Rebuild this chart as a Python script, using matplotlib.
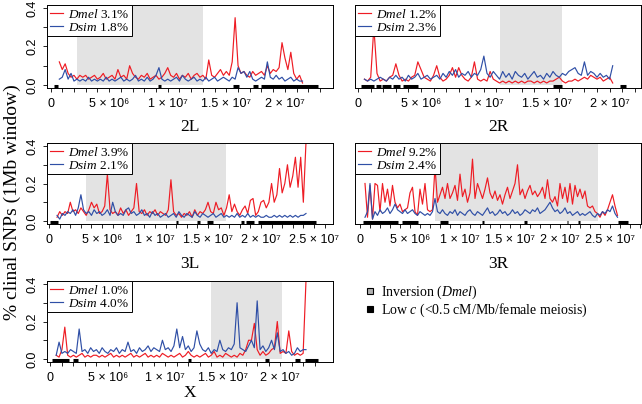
import numpy as np
import matplotlib.pyplot as plt
from matplotlib.lines import Line2D

plt.rcParams['mathtext.fontset'] = 'custom'
plt.rcParams['mathtext.rm'] = 'Liberation Serif'
plt.rcParams['mathtext.it'] = 'Liberation Serif:italic'

# sliding windows, first window midpoint per arm and step (bp)
win_step = 0.25e6

start_2L = 0.75e6
dmel_2L = [0.12, 0.08, 0.11, 0.06, 0.04, 0.05, 0.03, 0.05, 0.04, 0.05, 0.03, 0.04, 0.05, 0.03, 0.04, 0.06,
           0.03, 0.04, 0.05, 0.03, 0.08, 0.04, 0.05, 0.03, 0.10, 0.06, 0.04, 0.03, 0.05, 0.04, 0.06, 0.03,
           0.04, 0.05, 0.03, 0.04, 0.06, 0.09, 0.05, 0.04, 0.06, 0.03, 0.05, 0.04, 0.06, 0.03, 0.05, 0.06,
           0.04, 0.05, 0.03, 0.13, 0.05, 0.04, 0.06, 0.08, 0.05, 0.07, 0.05, 0.12, 0.35, 0.10, 0.06, 0.07,
           0.05, 0.04, 0.07, 0.05, 0.06, 0.07, 0.05, 0.10, 0.06, 0.08, 0.07, 0.09, 0.22, 0.14, 0.08, 0.17,
           0.06, 0.03, 0.05, 0.01]
dsim_2L = [0.03, 0.04, 0.08, 0.03, 0.06, 0.02, 0.03, 0.02, 0.03, 0.02, 0.04, 0.02, 0.03, 0.02, 0.03, 0.02,
           0.04, 0.02, 0.03, 0.02, 0.03, 0.04, 0.02, 0.03, 0.02, 0.03, 0.05, 0.02, 0.03, 0.02, 0.04, 0.02,
           0.03, 0.05, 0.09, 0.03, 0.02, 0.03, 0.02, 0.03, 0.04, 0.02, 0.05, 0.03, 0.02, 0.03, 0.04, 0.02,
           0.03, 0.02, 0.04, 0.02, 0.03, 0.04, 0.02, 0.03, 0.04, 0.03, 0.02, 0.04, 0.03, 0.09, 0.06, 0.07,
           0.04, 0.07, 0.03, 0.02, 0.03, 0.04, 0.03, 0.12, 0.04, 0.03, 0.05, 0.03, 0.04, 0.02, 0.03, 0.04,
           0.02, 0.03, 0.02, 0.02]

start_2R = 0.5e6
dmel_2R = [0.03, 0.02, 0.04, 0.30, 0.06, 0.02, 0.03, 0.02, 0.04, 0.05, 0.11, 0.05, 0.02, 0.03, 0.02, 0.04,
           0.05, 0.12, 0.08, 0.04, 0.03, 0.02, 0.05, 0.10, 0.04, 0.02, 0.03, 0.05, 0.09, 0.04, 0.09, 0.05,
           0.03, 0.02, 0.04, 0.12, 0.03, 0.02, 0.03, 0.02, 0.07, 0.03, 0.02, 0.01, 0.02, 0.01, 0.02, 0.01,
           0.02, 0.01, 0.02, 0.01, 0.02, 0.02, 0.01, 0.02, 0.01, 0.02, 0.01, 0.02, 0.02, 0.03, 0.04, 0.02,
           0.01, 0.02, 0.02, 0.03, 0.02, 0.03, 0.04, 0.03, 0.05, 0.04, 0.03, 0.04, 0.02, 0.03, 0.04, 0.01]
dsim_2R = [0.03, 0.02, 0.03, 0.02, 0.03, 0.04, 0.03, 0.02, 0.04, 0.03, 0.05, 0.03, 0.04, 0.02, 0.05, 0.03,
           0.04, 0.06, 0.03, 0.04, 0.05, 0.03, 0.04, 0.05, 0.03, 0.06, 0.04, 0.07, 0.05, 0.08, 0.04, 0.06,
           0.05, 0.07, 0.04, 0.06, 0.05, 0.08, 0.15, 0.06, 0.04, 0.07, 0.05, 0.03, 0.07, 0.04, 0.06, 0.03,
           0.07, 0.05, 0.04, 0.06, 0.03, 0.05, 0.07, 0.04, 0.05, 0.03, 0.06, 0.04, 0.07, 0.05, 0.04, 0.06,
           0.05, 0.07, 0.08, 0.09, 0.06, 0.05, 0.12, 0.05, 0.07, 0.06, 0.04, 0.06, 0.04, 0.05, 0.03, 0.10]

start_3L = 0.75e6
dmel_3L = [0.02, 0.05, 0.03, 0.05, 0.04, 0.10, 0.05, 0.06, 0.04, 0.07, 0.05, 0.03, 0.06, 0.10, 0.07, 0.09,
           0.04, 0.05, 0.08, 0.25, 0.06, 0.04, 0.05, 0.03, 0.07, 0.04, 0.06, 0.03, 0.05, 0.07, 0.20, 0.05,
           0.04, 0.06, 0.03, 0.05, 0.04, 0.06, 0.03, 0.05, 0.04, 0.03, 0.06, 0.22, 0.05, 0.03, 0.04, 0.02,
           0.04, 0.03, 0.05, 0.02, 0.06, 0.03, 0.05, 0.04, 0.06, 0.10, 0.05, 0.04, 0.10, 0.06, 0.07, 0.03,
           0.07, 0.14, 0.05, 0.09, 0.05, 0.03, 0.06, 0.08, 0.04, 0.11, 0.12, 0.03, 0.05, 0.10, 0.11, 0.07,
           0.10, 0.20, 0.10, 0.14, 0.28, 0.15, 0.20, 0.30, 0.18, 0.24, 0.34, 0.18, 0.34, 0.10, 0.42]
dsim_3L = [0.03, 0.01, 0.04, 0.03, 0.05, 0.04, 0.06, 0.03, 0.07, 0.14, 0.06, 0.04, 0.05, 0.03, 0.06, 0.04,
           0.05, 0.03, 0.04, 0.06, 0.03, 0.10, 0.05, 0.03, 0.04, 0.03, 0.06, 0.07, 0.04, 0.05, 0.03, 0.04,
           0.06, 0.03, 0.04, 0.02, 0.05, 0.03, 0.04, 0.02, 0.03, 0.04, 0.02, 0.03, 0.04, 0.02, 0.05, 0.03,
           0.02, 0.04, 0.03, 0.02, 0.05, 0.03, 0.02, 0.04, 0.03, 0.02, 0.03, 0.04, 0.02, 0.03, 0.04, 0.02,
           0.03, 0.02, 0.03, 0.02, 0.04, 0.02, 0.03, 0.02, 0.04, 0.02, 0.03, 0.02, 0.03, 0.02, 0.02, 0.03,
           0.02, 0.02, 0.03, 0.02, 0.03, 0.02, 0.03, 0.02, 0.03, 0.02, 0.03, 0.02, 0.03, 0.03, 0.04]

start_3R = 0.5e6
dmel_3R = [0.20, 0.02, 0.19, 0.01, 0.20, 0.19, 0.05, 0.20, 0.10, 0.17, 0.08, 0.19, 0.10, 0.07, 0.09, 0.05,
           0.06, 0.07, 0.15, 0.18, 0.05, 0.03, 0.17, 0.09, 0.20, 0.06, 0.05, 0.06, 0.29, 0.10, 0.14, 0.18,
           0.12, 0.20, 0.12, 0.15, 0.19, 0.11, 0.25, 0.13, 0.17, 0.10, 0.15, 0.33, 0.12, 0.20, 0.16, 0.12,
           0.17, 0.23, 0.15, 0.12, 0.16, 0.11, 0.14, 0.09, 0.14, 0.18, 0.12, 0.16, 0.20, 0.30, 0.14, 0.17,
           0.12, 0.16, 0.19, 0.14, 0.16, 0.13, 0.15, 0.18, 0.12, 0.22, 0.12, 0.10, 0.13, 0.08, 0.20, 0.12,
           0.18, 0.10, 0.20, 0.09, 0.19, 0.13, 0.17, 0.12, 0.16, 0.08, 0.07, 0.08, 0.05, 0.04, 0.02, 0.05,
           0.03, 0.06, 0.10, 0.14, 0.08, 0.03]
dsim_3R = [0.02, 0.05, 0.20, 0.01, 0.05, 0.03, 0.06, 0.04, 0.05, 0.07, 0.04, 0.06, 0.09, 0.06, 0.05, 0.04,
           0.06, 0.04, 0.05, 0.06, 0.04, 0.03, 0.05, 0.04, 0.03, 0.04, 0.03, 0.05, 0.12, 0.05, 0.04, 0.06,
           0.04, 0.03, 0.05, 0.04, 0.06, 0.03, 0.05, 0.04, 0.03, 0.05, 0.06, 0.04, 0.03, 0.05, 0.04, 0.03,
           0.05, 0.07, 0.04, 0.05, 0.03, 0.04, 0.06, 0.04, 0.05, 0.03, 0.04, 0.06, 0.04, 0.05, 0.03, 0.04,
           0.06, 0.05, 0.04, 0.06, 0.05, 0.07, 0.04, 0.05, 0.06, 0.08, 0.10, 0.07, 0.05, 0.06, 0.04, 0.05,
           0.07, 0.04, 0.05, 0.03, 0.04, 0.05, 0.03, 0.04, 0.03, 0.04, 0.05, 0.03, 0.02, 0.04, 0.03, 0.05,
           0.04, 0.06, 0.05, 0.08, 0.04, 0.02]

start_X = 0.5e6
dmel_X = [0.02, 0.01, 0.05, 0.17, 0.02, 0.01, 0.02, 0.01, 0.02, 0.03, 0.01, 0.02, 0.01, 0.02, 0.02, 0.01,
          0.02, 0.01, 0.02, 0.03, 0.01, 0.02, 0.01, 0.02, 0.01, 0.02, 0.03, 0.01, 0.02, 0.01, 0.02, 0.03,
          0.01, 0.02, 0.01, 0.02, 0.01, 0.03, 0.02, 0.01, 0.02, 0.01, 0.02, 0.03, 0.01, 0.02, 0.04, 0.02,
          0.01, 0.02, 0.01, 0.02, 0.03, 0.01, 0.02, 0.04, 0.01, 0.02, 0.01, 0.03, 0.02, 0.01, 0.02, 0.01,
          0.03, 0.02, 0.05, 0.10, 0.10, 0.19, 0.05, 0.02, 0.04, 0.02, 0.03, 0.05, 0.06, 0.20, 0.03, 0.04,
          0.03, 0.15, 0.04, 0.02, 0.03, 0.02, 0.03, 0.42]
dsim_X = [0.02, 0.09, 0.03, 0.04, 0.03, 0.05, 0.04, 0.03, 0.16, 0.04, 0.05, 0.03, 0.06, 0.04, 0.05, 0.03,
          0.06, 0.04, 0.03, 0.05, 0.04, 0.06, 0.03, 0.05, 0.04, 0.09, 0.04, 0.05, 0.03, 0.06, 0.04, 0.05,
          0.07, 0.04, 0.06, 0.05, 0.04, 0.10, 0.05, 0.06, 0.04, 0.07, 0.16, 0.06, 0.12, 0.05, 0.07, 0.04,
          0.06, 0.15, 0.08, 0.05, 0.04, 0.06, 0.03, 0.05, 0.04, 0.10, 0.05, 0.04, 0.06, 0.05, 0.08, 0.30,
          0.06, 0.05, 0.04, 0.07, 0.10, 0.06, 0.31, 0.05, 0.07, 0.04, 0.06, 0.10, 0.05, 0.14, 0.04, 0.05,
          0.03, 0.04, 0.02, 0.03, 0.06, 0.04, 0.05, 0.05]

pct_dmel = {'2L': '3.1%', '2R': '1.2%', '3L': '3.9%', '3R': '9.2%', 'X': '1.0%'}
pct_dsim = {'2L': '1.8%', '2R': '2.3%', '3L': '2.1%', '3R': '2.4%', 'X': '4.0%'}

# inversion breakpoints (Dmel), bp
inversions = {'2L': (2.3e6, 13.0e6), '2R': (11.3e6, 16.2e6), '3L': (3.45e6, 16.7e6),
              '3R': (7.5e6, 23.8e6), 'X': (14.0e6, 20.2e6)}

# low recombination regions, bp
low_c = {
    '2L': [(0.3e6, 0.6e6), (9.2e6, 9.4e6), (15.6e6, 16.1e6), (17.3e6, 17.7e6), (18.0e6, 22.8e6)],
    '2R': [(0.2e6, 1.3e6), (1.4e6, 1.8e6), (1.9e6, 2.6e6), (2.8e6, 3.3e6), (3.6e6, 4.8e6),
           (15.5e6, 16.2e6), (20.8e6, 21.3e6)],
    '3L': [(0.1e6, 0.8e6), (12.0e6, 12.2e6), (13.95e6, 14.2e6), (14.9e6, 15.5e6), (18.1e6, 18.4e6),
           (18.6e6, 19.3e6), (19.7e6, 25.2e6)],
    '3R': [(0.3e6, 3.8e6), (4.2e6, 5.8e6), (8.0e6, 8.8e6), (12.2e6, 12.4e6), (16.4e6, 16.7e6),
           (20.7e6, 20.8e6), (21.8e6, 22.0e6), (25.8e6, 26.8e6)],
    'X': [(0.15e6, 1.6e6), (2.0e6, 2.4e6), (12.0e6, 12.2e6), (18.7e6, 19.0e6), (21.3e6, 21.7e6),
          (22.2e6, 23.3e6)],
}

xtick_text = {0: '0', 5: '5 × 10⁶', 10: '1 × 10⁷', 15: '1.5 × 10⁷', 20: '2 × 10⁷', 25: '2.5 × 10⁷'}

RED = '#ee1c24'
BLUE = '#2f4fa6'
GREY = '#e3e3e3'
SANS = ['Liberation Sans', 'DejaVu Sans']
SERIF = ['Liberation Serif', 'DejaVu Serif']


def draw_arm(ax, arm, start, dmel, dsim, xlim, axis_end, left_col, title_off):
    inv = inversions[arm]
    ax.fill_between([inv[0], inv[1]], 0, 0.5, color=GREY, lw=0, zorder=0)
    x_mel = start + win_step * np.arange(len(dmel))
    x_sim = start + win_step * np.arange(len(dsim))
    ax.plot(x_mel, dmel, color=RED, lw=0.85, zorder=2, label=r'$\it{Dmel}$ ' + pct_dmel[arm])
    ax.plot(x_sim, dsim, color=BLUE, lw=0.85, zorder=3, label=r'$\it{Dsim}$ ' + pct_dsim[arm])
    segs = low_c[arm]
    ax.hlines([-0.004] * len(segs), [s[0] for s in segs], [s[1] for s in segs],
              color='black', lw=2.2, zorder=4)

    ax.set_xlim(*xlim)
    ax.set_ylim(-0.016, 0.416)

    ticks = np.arange(0, axis_end + 1, 1e6)
    ax.set_xticks(ticks)
    ax.set_xticklabels([xtick_text.get(int(round(t / 1e6)), '') if round(t / 1e6) % 5 == 0 else ''
                        for t in ticks], family=SANS, fontsize=9)
    ax.tick_params(axis='x', direction='out', length=3, width=0.6, pad=4)
    if left_col:
        ax.set_yticks([0, 0.1, 0.2, 0.3, 0.4])
        ax.set_yticklabels(['0.0', '', '0.2', '', '0.4'], family=SANS, fontsize=9,
                           rotation=90, va='center')
        ax.tick_params(axis='y', direction='out', length=3, width=0.6, pad=3)
    else:
        ax.set_yticks([])
    for sp in ax.spines.values():
        sp.set_linewidth(0.7)

    ax.text(0.5, title_off, arm, transform=ax.transAxes, ha='center', va='center',
            family=SERIF, fontsize=12.5)
    leg = ax.legend(loc='upper left', borderaxespad=0, fancybox=False, framealpha=1,
                    edgecolor='black', prop={'family': SERIF, 'size': 9.5}, handlelength=1.0,
                    handletextpad=0.4, labelspacing=0.05, borderpad=0.2)
    leg.get_frame().set_linewidth(0.7)
    leg.set_zorder(10)


fig = plt.figure(figsize=(6.42, 4.04), dpi=100)
W, H = 642.0, 404.0


def panel(px_left, px_top, px_right, px_bottom):
    return fig.add_axes([px_left / W, 1 - px_bottom / H, (px_right - px_left) / W, (px_bottom - px_top) / H])


ax = panel(47, 5, 333, 88)
draw_arm(ax, '2L', start_2L, dmel_2L, dsim_2L, (-0.3e6, 24.1e6), 23e6, True, -0.47)
ax = panel(355, 5, 641, 88)
draw_arm(ax, '2R', start_2R, dmel_2R, dsim_2R, (-0.25e6, 22.5e6), 22e6, False, -0.47)
ax = panel(47, 143, 333, 224)
draw_arm(ax, '3L', start_3L, dmel_3L, dsim_3L, (-0.2e6, 26.8e6), 26e6, True, -0.5)
ax = panel(355, 143, 641, 224)
draw_arm(ax, '3R', start_3R, dmel_3R, dsim_3R, (-0.5e6, 28.1e6), 28e6, False, -0.5)
ax = panel(47, 281, 333, 362)
draw_arm(ax, 'X', start_X, dmel_X, dsim_X, (-0.3e6, 24.6e6), 23e6, True, -0.385)

fig.text(0.019, 0.5, '% clinal SNPs (1Mb window)', rotation=90, ha='center', va='center',
         family=SERIF, fontsize=14)

handles = [Line2D([], [], ls='none', marker='s', markersize=5, mfc='#b0b0b0', mec='black', mew=0.8),
           Line2D([], [], ls='none', marker='s', markersize=5, mfc='black', mec='black', mew=0.8)]
labels = [r'Inversion ($\it{Dmel}$)', r'Low $\it{c}$ (<0.5 cM/Mb/female meiosis)']
fig.legend(handles, labels, loc='upper left', bbox_to_anchor=(362 / W, 1 - 284 / H), frameon=False,
           prop={'family': SERIF, 'size': 10}, handletextpad=0.2, handlelength=1.2,
           labelspacing=0.05, borderaxespad=0, borderpad=0)

fig.savefig('out.png', dpi=100)
